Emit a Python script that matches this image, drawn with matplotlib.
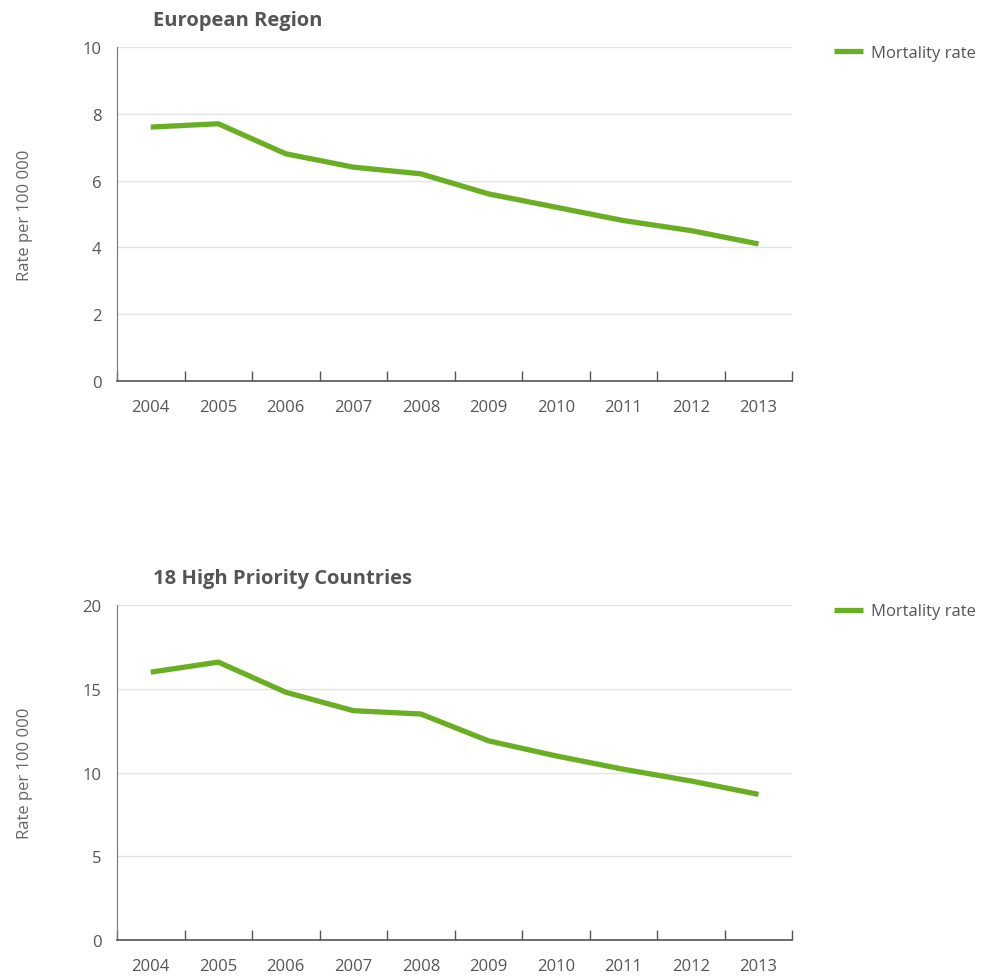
import numpy as np
import matplotlib.pyplot as plt

years = ["2004", "2005", "2006", "2007", "2008", "2009", "2010", "2011", "2012", "2013"]
europe_rate = [7.6, 7.7, 6.8, 6.4, 6.2, 5.6, 5.2, 4.8, 4.5, 4.1]
hpc_rate = [16.0, 16.6, 14.8, 13.7, 13.5, 11.9, 11.0, 10.2, 9.5, 8.7]

titles = ["European Region", "18 High Priority Countries"]
y_ticks = [[0, 2, 4, 6, 8, 10], [0, 5, 10, 15, 20]]

green = "#6aaf23"
text_col = "#555555"

plt.rcParams['font.family'] = ['Open Sans', 'DejaVu Sans']

fig = plt.figure(figsize=(9.83, 9.79), dpi=100)
ax1 = fig.add_axes([0.119, 0.610, 0.687, 0.341])
ax2 = fig.add_axes([0.119, 0.0388, 0.687, 0.342])

x = np.arange(len(years))
for ax, vals, title, yt in zip([ax1, ax2], [europe_rate, hpc_rate], titles, y_ticks):
    ax.plot(x, vals, color=green, lw=3.8, solid_capstyle="butt", label="Mortality rate", zorder=3)
    ax.set_xlim(-0.5, len(years) - 0.5)
    ax.set_ylim(yt[0], yt[-1])
    ax.set_yticks(yt)
    ax.set_xticks(x)
    ax.set_xticklabels(years)
    ax.set_xticks(np.arange(len(years) + 1) - 0.5, minor=True)
    ax.tick_params(axis="x", which="major", length=0, pad=13, labelsize=12, colors=text_col)
    ax.tick_params(axis="x", which="minor", direction="in", length=7, width=1, color=text_col)
    ax.tick_params(axis="y", length=0, pad=11, labelsize=12, labelcolor=text_col)
    ax.grid(axis="y", color="#e2e2e2", lw=1, zorder=0)
    for s in ["top", "right"]:
        ax.spines[s].set_visible(False)
    ax.spines["left"].set_color("#777777")
    ax.spines["bottom"].set_color(text_col)
    ax.spines["bottom"].set_linewidth(1.2)
    ax.set_ylabel("Rate per 100 000", fontsize=12, color="#666666", labelpad=36)
    ax.text(0.053, 1.08, title, transform=ax.transAxes, fontsize=14.5, fontweight="bold",
            color=text_col, ha="left", va="center")
    ax.legend(loc="upper left", bbox_to_anchor=(1.04, 1.05), frameon=False, fontsize=12,
              handlelength=1.7, handletextpad=0.5, labelcolor=text_col)

fig.savefig("out.png", dpi=100)
